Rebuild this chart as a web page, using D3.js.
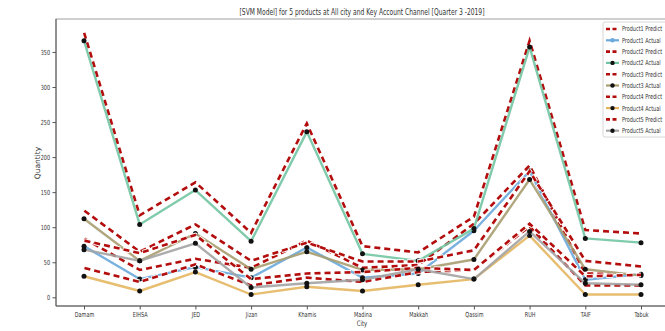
<!DOCTYPE html>
<html><head><meta charset="utf-8">
<script src="https://cdn.jsdelivr.net/npm/d3@7"></script>
<style>
body{margin:0;background:#fff;}
svg{display:block;}
text{font-family:"DejaVu Sans",sans-serif;fill:#333;}
</style></head>
<body>
<svg id="c" width="665" height="331"></svg>
<script>
const cities = ["Damam","EIHSA","JED","Jizan","Khamis","Madina","Makkah","Qassim","RUH","TAIF","Tabuk"];
const yTicks = [0,50,100,150,200,250,300,350];
const products = ["Product1","Product2","Product3","Product4","Product5"];
const actualColors = ["#6aa9dc","#72c5a3","#a79d70","#e4b65f","#a3a3a3"];
const predictColor = "#b30d0d";

const p1Actual  = [73, 26, 43, 28, 71, 28, 34, 95, 180, 25, 33];
const p1Predict = [84, 39, 55, 42, 81, 42, 46, 105, 188, 34, 32];
const p2Actual  = [366, 104, 153, 80, 236, 62, 52, 98, 357, 84, 78];
const p2Predict = [378, 117, 164, 92, 248, 73, 64, 115, 366, 96, 91];
const p3Actual  = [112, 52, 91, 40, 65, 39, 40, 54, 168, 40, 31];
const p3Predict = [124, 65, 104, 52, 78, 51, 51, 67, 180, 52, 44];
const p4Actual  = [30, 9, 36, 4, 15, 9, 18, 26, 88, 4, 4];
const p4Predict = [42, 22, 47, 17, 28, 22, 36, 39, 101, 17, 17];
const p5Actual  = [68, 52, 77, 14, 20, 25, 40, 26, 94, 20, 18];
const p5Predict = [81, 63, 89, 26, 34, 36, 42, 39, 105, 30, 32];

const actuals = [p1Actual,p2Actual,p3Actual,p4Actual,p5Actual];
const predicts = [p1Predict,p2Predict,p3Predict,p4Predict,p5Predict];

const svg = d3.select("#c");
const L = 56, R = 669, T = 19, B = 306;
const SX = 0.7;

const x = d3.scalePoint().domain(cities).range([84, 641]);
const y = d3.scaleLinear().domain([-12.4, 397]).range([B, T]);

// frame
svg.append("rect").attr("x",L).attr("y",T).attr("width",R-L).attr("height",B-T)
  .attr("fill","none").attr("stroke","#888").attr("stroke-width",0.8);

const line = d3.line().x((d,i)=>x(cities[i])).y(d=>y(d));

products.forEach((p,k)=>{
  // predict
  svg.append("path").attr("d",line(predicts[k])).attr("fill","none")
    .attr("stroke","#fff").attr("stroke-width",4.6).attr("stroke-dasharray","7,3")
    .attr("stroke-linejoin","round");
  svg.append("path").attr("d",line(predicts[k])).attr("fill","none")
    .attr("stroke",predictColor).attr("stroke-width",2.6).attr("stroke-dasharray","6,4")
    .attr("stroke-dashoffset",-0.5);
  // actual
  svg.append("path").attr("d",line(actuals[k])).attr("fill","none")
    .attr("stroke",actualColors[k]).attr("stroke-width",2.4).attr("stroke-opacity",0.9)
    .attr("stroke-linejoin","round");
  svg.append("g").selectAll("circle").data(actuals[k]).join("circle")
    .attr("cx",(d,i)=>x(cities[i])).attr("cy",d=>y(d)).attr("r",2.5)
    .attr("fill","#111");
});

// axes
const gx = svg.append("g").attr("transform",`translate(0,${B})`)
  .call(d3.axisBottom(x).tickSize(3.5).tickPadding(3));
const gy = svg.append("g").attr("transform",`translate(${L},0)`)
  .call(d3.axisLeft(y).tickValues(yTicks).tickSize(3.5).tickPadding(3));
[gx,gy].forEach(g=>{
  g.select(".domain").attr("stroke","#555").attr("stroke-width",1);
  g.selectAll(".tick line").attr("stroke","#555");
  g.selectAll("text").attr("font-size",7).attr("fill","#333")
   .attr("font-family","DejaVu Sans");
});
gx.select(".domain").attr("d",`M${L},0H${R}`);
gy.select(".domain").attr("d",`M0,${B}V${T}`);
gx.selectAll(".tick text").attr("transform",`scale(${SX},1)`);
gy.selectAll(".tick text").attr("x",-6/SX).attr("transform",`scale(${SX},1)`);

// labels
svg.append("text").attr("x",362/SX).attr("y",326).attr("text-anchor","middle")
  .attr("font-size",7.5).attr("transform",`scale(${SX},1)`).text("City");
svg.append("text").attr("transform","translate(40,163) rotate(-90)")
  .attr("text-anchor","middle").attr("font-size",7.5).text("Quantity");
svg.append("text").attr("x",362).attr("y",15).attr("text-anchor","middle")
  .attr("font-size",8.5).attr("textLength",245).attr("lengthAdjust","spacingAndGlyphs")
  .text("[SVM Model] for 5 products at All city and Key Account Channel [Quarter 3 -2019]");

// legend
const lg = svg.append("g");
lg.append("rect").attr("x",603).attr("y",22).attr("width",70).attr("height",115).attr("rx",2)
  .attr("fill","#fff").attr("fill-opacity",0.85).attr("stroke","#ccc").attr("stroke-width",0.8);
const entries = [];
products.forEach((p,k)=>{
  entries.push({label:p+" Predict", type:"pred", k});
  entries.push({label:p+" Actual", type:"act", k});
});
entries.forEach((e,i)=>{
  const yy = 29 + i*11.3;
  if(e.type==="pred"){
    lg.append("line").attr("x1",606).attr("x2",619).attr("y1",yy).attr("y2",yy)
      .attr("stroke","#fff").attr("stroke-width",4.5);
    lg.append("line").attr("x1",606).attr("x2",619).attr("y1",yy).attr("y2",yy)
      .attr("stroke",predictColor).attr("stroke-width",2.6).attr("stroke-dasharray","4,2.5");
  } else {
    lg.append("line").attr("x1",606).attr("x2",619).attr("y1",yy).attr("y2",yy)
      .attr("stroke",actualColors[e.k]).attr("stroke-width",2.2);
    lg.append("circle").attr("cx",612.5).attr("cy",yy).attr("r",2.2)
      .attr("fill", e.k===0 ? actualColors[0] : "#111");
  }
  lg.append("text").attr("x",622/SX).attr("y",yy+2.5).attr("font-size",7)
    .attr("transform",`scale(${SX},1)`).text(e.label);
});
</script>
</body></html>
